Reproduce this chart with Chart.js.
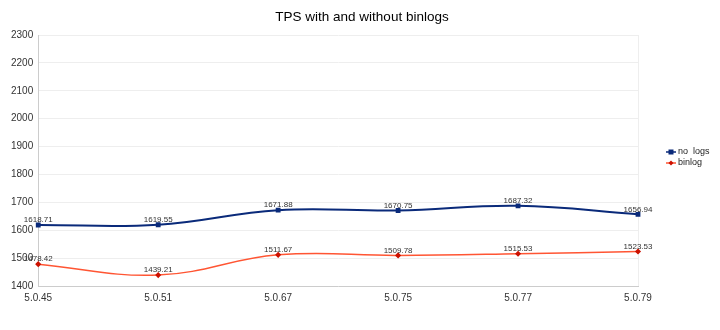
<!DOCTYPE html>
<html>
<head>
<meta charset="utf-8">
<script src="https://cdn.jsdelivr.net/npm/chart.js@4"></script>
<style>
  html, body { margin: 0; padding: 0; background: #fff; }
  #wrap { width: 720px; height: 330px; position: relative; }
</style>
</head>
<body>
<div id="wrap"><canvas id="chartCanvas"></canvas></div>
<script>
// Chart data
const versions = ['5.0.45', '5.0.51', '5.0.67', '5.0.75', '5.0.77', '5.0.79'];
const noLogs = [1618.71, 1619.55, 1671.88, 1670.75, 1687.32, 1656.94];
const binlog = [1478.42, 1439.21, 1511.67, 1509.78, 1515.53, 1523.53];
const yTicks = [1400, 1500, 1600, 1700, 1800, 1900, 2000, 2100, 2200, 2300];
const chartTitle = 'TPS with and without binlogs';

const font = 'Liberation Sans, Arial, sans-serif';

// Title centred on the whole canvas
const pageTitle = {
  id: 'pageTitle',
  afterDraw(chart) {
    const ctx = chart.ctx;
    ctx.save();
    ctx.font = '13.5px ' + font;
    ctx.fillStyle = '#000';
    ctx.textAlign = 'center';
    ctx.textBaseline = 'middle';
    ctx.fillText(chartTitle, chart.width / 2 + 2, 17);
    ctx.restore();
  }
};

// Draws the value above each point
const valueLabels = {
  id: 'valueLabels',
  afterDatasetsDraw(chart) {
    const ctx = chart.ctx;
    ctx.save();
    ctx.font = '8px ' + font;
    ctx.fillStyle = '#333';
    ctx.textAlign = 'center';
    ctx.textBaseline = 'bottom';
    chart.data.datasets.forEach((ds, i) => {
      chart.getDatasetMeta(i).data.forEach((pt, j) => {
        ctx.fillText(ds.data[j].toFixed(2), pt.x, pt.y - 1);
      });
    });
    ctx.restore();
  }
};

// Legend on the right, line + marker
const sideLegend = {
  id: 'sideLegend',
  afterDraw(chart) {
    const ctx = chart.ctx;
    ctx.save();
    ctx.font = '9px ' + font;
    ctx.textBaseline = 'middle';
    chart.data.datasets.forEach((ds, i) => {
      const x = 671, y = 152 + i * 11;
      ctx.strokeStyle = ds.borderColor;
      ctx.lineWidth = 1.5;
      ctx.beginPath();
      ctx.moveTo(x - 5, y);
      ctx.lineTo(x + 5, y);
      ctx.stroke();
      ctx.fillStyle = ds.pointBackgroundColor;
      if (ds.pointStyle === 'rect') {
        ctx.fillRect(x - 2.5, y - 2.5, 5, 5);
      } else {
        ctx.beginPath();
        ctx.moveTo(x, y - 2.5);
        ctx.lineTo(x + 2.5, y);
        ctx.lineTo(x, y + 2.5);
        ctx.lineTo(x - 2.5, y);
        ctx.closePath();
        ctx.fill();
      }
      ctx.fillStyle = '#222';
      ctx.fillText(ds.label, x + 7, y);
    });
    ctx.restore();
  }
};

const ctx = document.getElementById('chartCanvas').getContext('2d');
const chart = new Chart(ctx, {
  type: 'line',
  data: {
    labels: versions,
    datasets: [{
      label: 'no  logs',
      data: noLogs,
      borderColor: '#0a2a7a',
      pointBackgroundColor: '#0a2a7a',
      pointBorderColor: '#0a2a7a',
      pointStyle: 'rect',
      pointRadius: 2,
      borderWidth: 2,
      tension: 0.4,
      fill: false
    }, {
      label: 'binlog',
      data: binlog,
      borderColor: '#ff5533',
      pointBackgroundColor: '#cc1100',
      pointBorderColor: '#cc1100',
      pointStyle: 'rectRot',
      pointRadius: 2,
      borderWidth: 1.5,
      tension: 0.4,
      fill: false
    }]
  },
  options: {
    responsive: true,
    maintainAspectRatio: false,
    animation: false,
    layout: { padding: { left: 6, right: 82, top: 35, bottom: 20 } },
    plugins: {
      legend: { display: false },
      tooltip: { enabled: false },
      title: { display: false }
    },
    scales: {
      x: {
        type: 'category',
        offset: false,
        grid: {
          drawTicks: false,
          color: c => c.index === versions.length - 1 ? '#eeeeee' : 'rgba(0,0,0,0)'
        },
        border: { color: '#ccc' },
        ticks: { color: '#333', font: { family: font, size: 10 }, padding: 6, maxRotation: 0 }
      },
      y: {
        min: 1400,
        max: 2300,
        afterBuildTicks(axis) { axis.ticks = yTicks.map(v => ({ value: v })); },
        grid: { color: '#eeeeee', drawTicks: false },
        border: { color: '#ccc' },
        ticks: {
          color: '#333',
          font: { family: font, size: 10 },
          padding: 5,
          callback: v => String(v)
        }
      }
    }
  },
  plugins: [pageTitle, valueLabels, sideLegend]
});
</script>
</body>
</html>
